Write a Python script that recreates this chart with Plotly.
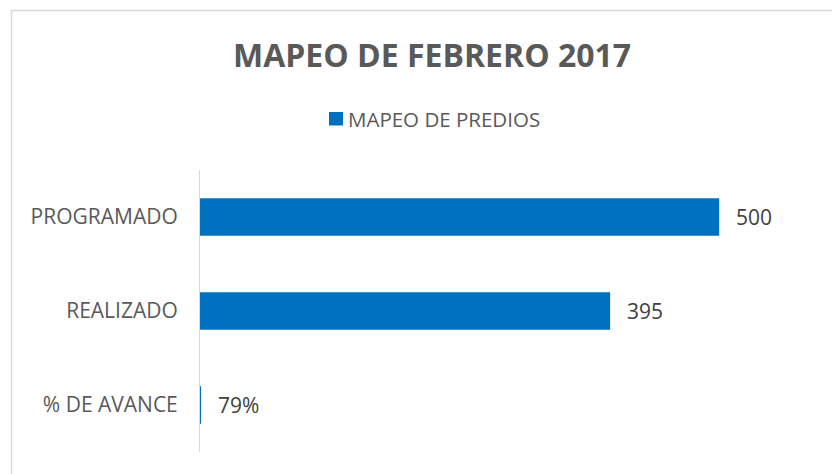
import plotly.graph_objects as go

categories = ["PROGRAMADO", "REALIZADO", "% DE AVANCE"]
values = [500, 395, 0.79]
labels = ["500", "395", "79%"]
series_name = "MAPEO DE PREDIOS"
title_text = "MAPEO DE FEBRERO 2017"

OFF = 8  # default body margin of the page
W, H = 840 - OFF, 474 - OFF
L, R, T, B = 200 - OFF, 17, 170 - OFF, 22
pw, ph = W - L - R, H - T - B


def px_x(p):
    return (p - OFF - L) / pw


def px_y(p):
    return (H - B - (p - OFF)) / ph


FONT = "Open Sans"
BLUE = "#0070C0"
fig = go.Figure()
fig.add_trace(go.Bar(
    y=categories, x=values, orientation="h", name=series_name,
    marker=dict(color=BLUE, line=dict(width=0)),
    width=0.4, showlegend=False, hoverinfo="skip",
))

for c, v, t in zip(categories, values, labels):
    fig.add_annotation(x=v, y=c, text=t, xanchor="left", yanchor="middle",
                       xshift=15, showarrow=False,
                       font=dict(family=FONT, size=21, color="#404040"))

fig.add_annotation(xref="paper", yref="paper", x=px_x(432), y=px_y(54),
                   text="<b>" + title_text + "</b>", showarrow=False,
                   xanchor="center", yanchor="middle",
                   font=dict(family=FONT, size=32, color="#595959"))

# legend
fig.add_shape(type="rect", xref="paper", yref="paper",
              x0=px_x(329), x1=px_x(343), y0=px_y(112), y1=px_y(125.5),
              line=dict(width=0), fillcolor=BLUE)
fig.add_annotation(xref="paper", yref="paper", x=px_x(346), y=px_y(119),
                   text=series_name, showarrow=False,
                   xanchor="left", yanchor="middle",
                   font=dict(family=FONT, size=20.5, color="#595959"))

fig.add_shape(type="rect", xref="paper", yref="paper",
              x0=px_x(11.5), x1=px_x(900), y0=px_y(10.5), y1=px_y(520),
              line=dict(color="#D9D9D9", width=1.5), fillcolor="rgba(0,0,0,0)",
              layer="below")

fig.update_layout(
    width=W, height=H,
    margin=dict(l=L, r=R, t=T, b=B),
    paper_bgcolor="white", plot_bgcolor="white",
    font=dict(family=FONT, color="#595959"),
    showlegend=False,
    bargap=0.6,
)
fig.update_xaxes(range=[0, 600], visible=False, showgrid=False, zeroline=False)
fig.update_yaxes(categoryorder="array", categoryarray=categories,
                 autorange="reversed", showline=True, linecolor="#D9D9D9",
                 linewidth=1, showgrid=False, zeroline=False, ticks="",
                 ticklabelstandoff=17,
                 tickfont=dict(family=FONT, size=21, color="#595959"))

fig.write_html("out.html")
